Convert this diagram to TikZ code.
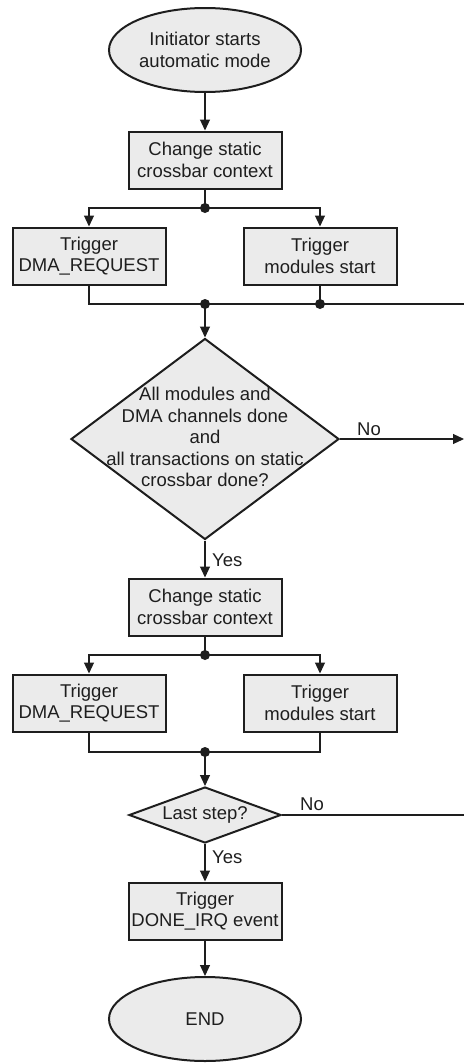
\documentclass[tikz,border=0pt]{standalone}
\usepackage{fontspec}
\setmainfont{Liberation Sans}
\usetikzlibrary{shapes.geometric,arrows.meta}
\definecolor{boxfill}{HTML}{EBEBEB}
\definecolor{ink}{HTML}{1E1E1E}
\begin{document}
\begin{tikzpicture}[x=1pt,y=-1pt,
  every node/.style={font=\fontsize{18.5}{21.5}\selectfont, text=ink},
  term/.style={ellipse, draw=ink, line width=2pt, fill=boxfill, minimum width=192pt, minimum height=84pt, inner sep=0pt, align=center},
  proc/.style={rectangle, draw=ink, line width=2pt, fill=boxfill, minimum width=153pt, minimum height=57pt, inner sep=0pt, align=center},
  dec/.style={diamond, draw=ink, line width=2pt, fill=boxfill, inner sep=0pt},
  conn/.style={draw=ink, line width=1.1pt},
  arr/.style={conn, -{Triangle[width=10pt,length=11pt]}},
  dot/.style={circle, fill=ink, inner sep=0pt, minimum size=10pt},
  lbl/.style={anchor=west, inner sep=0pt}
]
\useasboundingbox (0,0) rectangle (464,1063);

% nodes
\node[term] (start) at (205,50) {Initiator starts\\automatic mode};
\node[proc] (ctx1) at (205,160) {Change static\\crossbar context};
\node[proc] (dma1) at (89,256) {Trigger\\DMA\_REQUEST};
\node[proc] (mod1) at (320,256) {Trigger\\modules start};
\node[dec, minimum width=268pt, minimum height=201pt] (d1) at (205,439) {};
\node[align=center, inner sep=0pt] (d1t) at (205,437) {All modules and\\DMA channels done\\and\\all transactions on static\\crossbar done?};
\node[proc] (ctx2) at (205,607) {Change static\\crossbar context};
\node[proc] (dma2) at (89,703) {Trigger\\DMA\_REQUEST};
\node[proc] (mod2) at (320,703) {Trigger\\modules start};
\node[dec, minimum width=152pt, minimum height=56pt] (d2) at (205,815) {};
\node[inner sep=0pt] (d2t) at (205,815) {Last step?};
\node[proc] (done) at (205,911) {Trigger\\DONE\_IRQ event};
\node[term] (end) at (205,1019) {END};

% junctions
\coordinate (j1) at (205,208);
\coordinate (j2) at (205,304);
\coordinate (j2r) at (320,304);
\coordinate (r1) at (464,304);
\coordinate (r2) at (464,439);
\coordinate (j3) at (205,655);
\coordinate (j4) at (205,752);
\coordinate (r3) at (464,815);

% connectors
\draw[arr] (start) -- (ctx1);
\draw[conn] (ctx1) -- (j1);
\draw[arr] (j1) -| (dma1.north);
\draw[arr] (j1) -| (mod1.north);
\draw[conn] (dma1.south) |- (j2);
\draw[conn] (mod1.south) -- (j2r);
\draw[conn] (j2) -- (r1);
\draw[arr] (j2) -- (d1.north);
\draw[arr] (d1.east) -- (r2);
\draw[arr] (d1.south) -- (ctx2);
\draw[conn] (ctx2) -- (j3);
\draw[arr] (j3) -| (dma2.north);
\draw[arr] (j3) -| (mod2.north);
\draw[conn] (dma2.south) |- (j4);
\draw[conn] (mod2.south) |- (j4);
\draw[arr] (j4) -- (d2.north);
\draw[conn] (d2.east) -- (r3);
\draw[arr] (d2.south) -- (done);
\draw[arr] (done) -- (end);

% dots
\node[dot] at (j1) {};
\node[dot] at (j2) {};
\node[dot] at (j2r) {};
\node[dot] at (j3) {};
\node[dot] at (j4) {};

% labels
\node[lbl] (no1) at (357,429) {No};
\node[lbl] (yes1) at (212,560) {Yes};
\node[lbl] (no2) at (300,804) {No};
\node[lbl] (yes2) at (212,857) {Yes};
\end{tikzpicture}
\end{document}
